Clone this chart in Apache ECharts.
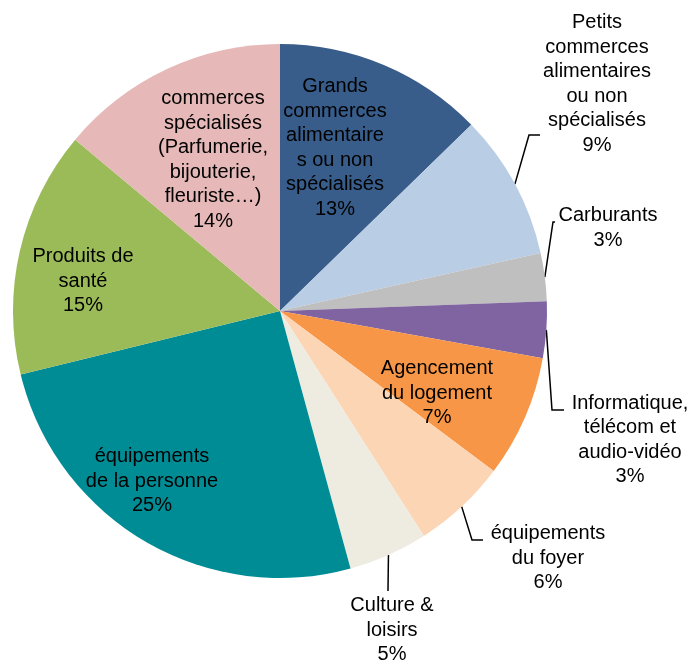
<!DOCTYPE html>
<html>
<head>
<meta charset="utf-8">
<script src="https://cdn.jsdelivr.net/npm/echarts@6/dist/echarts.min.js"></script>
<style>
  html, body { margin: 0; padding: 0; background: #fff; }
  #chart { width: 692px; height: 660px; }
</style>
</head>
<body>
<div id="chart"></div>
<script>
// libellés des secteurs (retours à la ligne comme dans l'original)
var names = [
    'Grands\ncommerces\nalimentaire\ns ou non\nspécialisés',
    'Petits\ncommerces\nalimentaires\nou non\nspécialisés',
    'Carburants',
    'Informatique,\ntélécom et\naudio-vidéo',
    'Agencement\ndu logement',
    'équipements\ndu foyer',
    'Culture &\nloisirs',
    'équipements\nde la personne',
    'Produits de\nsanté',
    'commerces\nspécialisés\n(Parfumerie,\nbijouterie,\nfleuriste…)'
];
var values = [12.7, 8.8, 2.9, 3.4, 7.4, 5.7, 4.8, 25.4, 14.9, 13.9];
var colors = ['#385D8A', '#B9CDE5', '#BFBFBF', '#8064A2', '#F79646',
              '#FCD5B5', '#EEECE1', '#008C95', '#9BBB59', '#E6B9B8'];
var inside = [true, false, false, false, true, false, false, true, true, true];
// position du centre de chaque étiquette
var labelPos = [
    [335, 148], [597, 84], [608, 228], [630, 440], [437, 393],
    [548, 558], [392, 630], [152, 481], [83, 281], [213, 160]
];
// coude et fin des traits de rappel (étiquettes extérieures)
var guide = [
    null, [[529, 135], [540, 135]], [[553, 222], [555, 222]],
    [[552, 410], [564, 410]], null, [[472, 540], [483, 540]],
    [[388, 591], [388, 591]], null, null, null
];

var chart = echarts.init(document.getElementById('chart'));

var data = [];
for (var i = 0; i < values.length; i++) {
    data.push({
        name: names[i],
        value: values[i],
        itemStyle: { color: colors[i] },
        labelLine: { show: !inside[i] }
    });
}

var option = {
    backgroundColor: '#fff',
    animation: false,
    series: [{
        type: 'pie',
        center: [280, 311],
        radius: 267,
        startAngle: 90,
        clockwise: true,
        avoidLabelOverlap: false,
        data: data,
        label: {
            show: true,
            position: 'outside',
            color: '#000',
            fontFamily: 'Liberation Sans, Arial, sans-serif',
            fontSize: 20,
            lineHeight: 24.5,
            align: 'center',
            formatter: function (p) {
                return p.name + '\n' + Math.round(p.percent) + '%';
            }
        },
        labelLine: {
            show: true,
            length: 20,
            length2: 10,
            lineStyle: { color: '#000', width: 1.5 }
        },
        labelLayout: function (p) {
            var pos = labelPos[p.dataIndex];
            var res = {
                x: pos[0],
                y: pos[1],
                align: 'center',
                verticalAlign: 'middle'
            };
            var g = guide[p.dataIndex];
            if (g && p.labelLinePoints) {
                res.labelLinePoints = [p.labelLinePoints[0], g[0], g[1]];
            }
            return res;
        }
    }]
};
chart.setOption(option);
</script>
</body>
</html>
